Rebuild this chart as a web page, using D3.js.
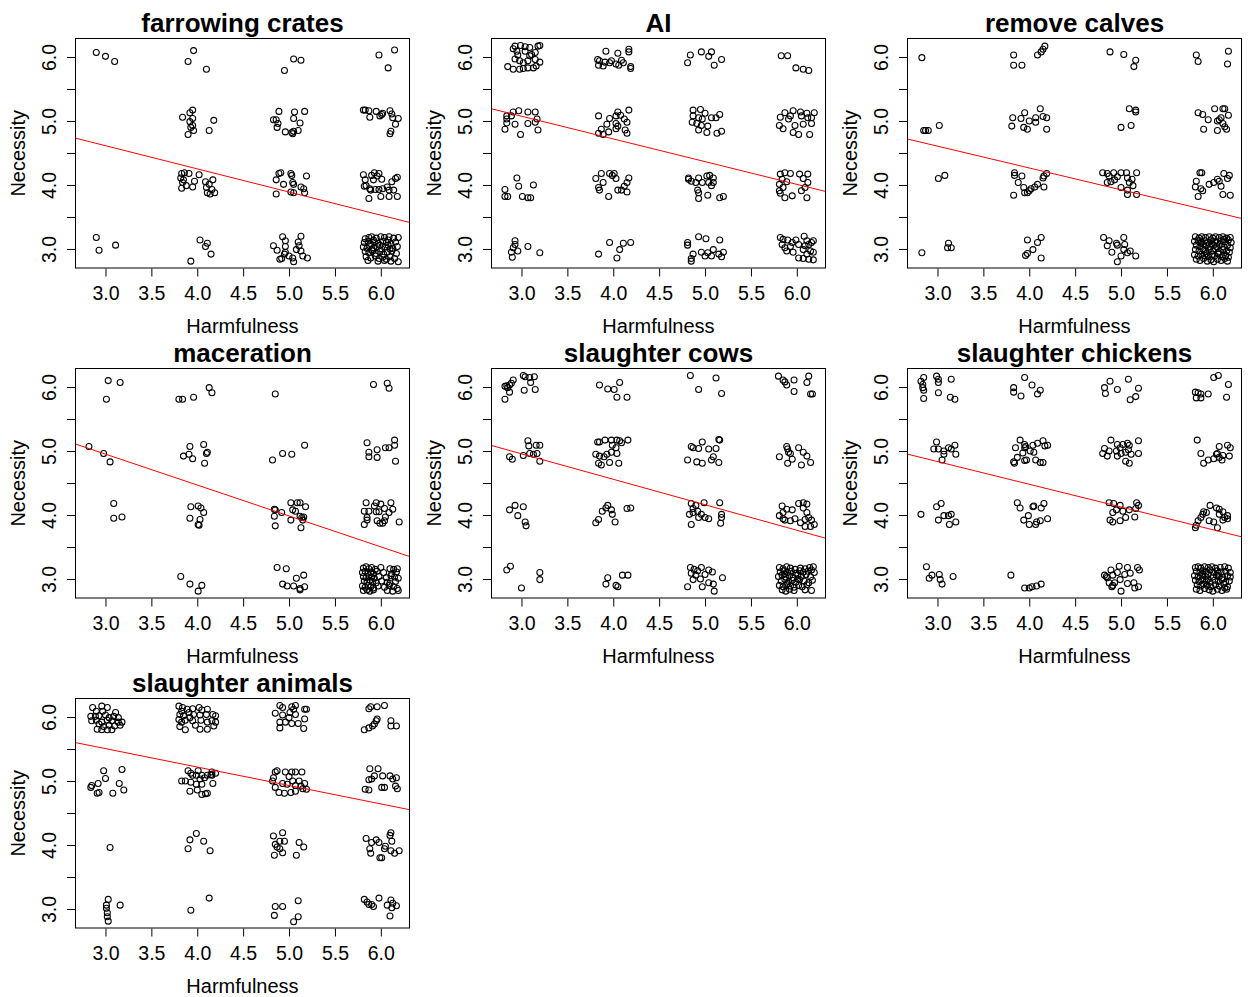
<!DOCTYPE html>
<html>
<head>
<meta charset="utf-8">
<script src="https://cdn.jsdelivr.net/npm/d3@7"></script>
<style>
body { margin: 0; background: #fff; }
text { font-family: "Liberation Sans", Arial, sans-serif; }
</style>
</head>
<body>
<div id="chart"></div>
<script>
// panel titles and fitted lines
var titles = ["farrowing crates", "AI", "remove calves", "maceration", "slaughter cows", "slaughter chickens", "slaughter animals"];
var intercepts = [5.70, 6.14, 5.63, 6.40, 6.15, 5.90, 6.37];
var slopes = [-0.362, -0.355, -0.341, -0.483, -0.398, -0.355, -0.288];

var xTicks = [3, 3.5, 4, 4.5, 5, 5.5, 6];
var yTicks = [3, 3.5, 4, 4.5, 5, 5.5, 6];
var yTickLabels = [3, 4, 5, 6];

// jittered points [Harmfulness, Necessity]
var ptsFarrowing = [
 [2.90,6.07],[3.00,6.01],[3.10,5.93],[3.96,6.10],[3.90,5.93],[4.10,5.81],[5.05,5.97],[5.13,5.95],[4.95,5.79],[6.15,6.11],[5.98,6.03],[6.08,5.83],
 [3.95,5.17],[3.92,5.13],[3.84,5.06],[3.95,5.04],[3.92,4.99],[4.18,5.01],[3.95,4.93],[3.93,4.90],[3.96,4.85],[3.90,4.79],[4.13,4.85],
 [4.89,5.15],[5.06,5.14],[5.17,5.15],[4.83,5.02],[4.86,5.02],[4.88,4.96],[5.05,5.04],[5.12,4.97],[4.87,4.90],[4.96,4.83],[5.04,4.80],[5.05,4.84],[5.10,4.85],[5.03,4.82],
 [5.81,5.17],[5.83,5.17],[5.88,5.06],[5.95,5.15],[6.01,5.10],[6.02,5.12],[6.10,5.16],[6.12,5.11],[6.13,5.05],[6.19,5.04],[6.16,4.95],[6.11,4.84],[6.10,4.80],[5.99,5.08],[5.87,5.16],
 [3.83,4.18],[3.86,4.19],[3.91,4.18],[4.02,4.16],[3.82,4.11],[3.85,4.08],[3.84,4.04],[3.88,3.99],[3.83,3.95],[3.95,3.97],[4.09,4.05],[4.17,4.08],[4.13,4.01],[4.10,3.96],[4.16,3.93],[4.11,3.88],[4.14,3.86],[4.19,3.88],[3.97,4.06],
 [4.89,4.18],[5.02,4.18],[5.03,4.15],[5.19,4.14],[4.86,4.08],[4.94,4.01],[5.04,4.04],[5.13,3.97],[5.16,3.94],[4.86,3.86],[5.02,3.89],[5.05,3.88],[5.17,3.88],[4.91,4.19],[5.05,4.01],
 [5.81,4.16],[5.90,4.15],[5.93,4.19],[5.98,4.18],[6.01,4.09],[5.92,4.08],[5.83,4.08],[5.84,3.99],[5.88,3.94],[5.89,3.92],[5.94,3.93],[5.98,3.93],[6.02,3.94],[6.07,3.97],[6.12,4.05],[6.16,4.10],[6.18,4.12],[5.82,3.98],[5.87,3.79],[6.00,3.82],[6.09,3.82],[6.18,3.82],[6.14,3.92],[6.09,3.92],[5.96,4.14],
 [2.90,3.18],[2.93,2.98],[3.11,3.06],[4.03,3.14],[4.11,3.09],[4.09,3.04],[4.15,2.92],[3.93,2.81],
 [4.93,3.19],[5.13,3.20],[4.96,3.13],[4.83,3.05],[4.96,3.04],[5.10,3.11],[5.11,3.05],[5.13,2.97],[4.87,2.98],[4.95,2.92],[5.00,2.89],[4.92,2.85],[5.08,2.99],[5.15,2.89],[5.20,2.86],[5.05,2.80],[4.90,2.84],[4.96,2.95],[5.04,2.86],
 [5.83,3.16],[5.87,3.18],[5.90,3.19],[5.95,3.17],[6.00,3.19],[6.04,3.18],[6.09,3.19],[6.14,3.17],[6.19,3.18],
 [5.82,3.10],[5.86,3.12],[5.89,3.08],[5.93,3.11],[5.97,3.09],[6.02,3.12],[6.06,3.10],[6.11,3.08],[6.16,3.11],
 [5.81,3.03],[5.85,3.01],[5.88,3.05],[5.92,3.02],[5.96,3.04],[6.01,3.00],[6.05,3.03],[6.08,3.06],[6.13,3.01],[6.18,3.04],
 [5.83,2.96],[5.87,2.94],[5.91,2.97],[5.95,2.93],[5.99,2.96],[6.03,2.92],[6.07,2.95],[6.12,2.97],[6.17,2.93],
 [5.84,2.88],[5.89,2.86],[5.94,2.89],[5.98,2.85],[6.02,2.87],[6.06,2.84],[6.10,2.88],[6.15,2.85],
 [5.86,2.82],[5.97,2.81],[6.04,2.82],[6.11,2.81],[6.19,2.80],[5.92,3.14],[6.08,3.14],[5.99,3.06],[5.90,2.99],[6.10,3.00]
];

var ptsAI = [
 [2.91,6.13],[2.93,6.17],[2.99,6.18],[3.04,6.16],[3.09,6.15],[3.18,6.17],[3.20,6.18],[2.95,6.09],[3.04,6.09],[3.11,6.04],[3.15,6.07],[2.93,5.97],[2.98,5.94],[3.02,5.91],[3.07,5.94],[3.15,5.96],[3.20,5.92],[2.85,5.85],[2.91,5.81],[2.98,5.81],[3.02,5.82],[3.07,5.83],[3.13,5.83],[3.16,5.86],[2.96,6.03],[3.09,6.02],
 [3.92,6.09],[4.05,6.06],[4.17,6.12],[4.17,6.08],[3.83,5.96],[3.85,5.94],[3.91,5.92],[3.96,5.91],[4.03,5.89],[4.09,5.95],[4.11,5.91],[3.84,5.87],[3.89,5.86],[4.06,5.87],[4.19,5.85],[4.19,5.82],[3.98,5.94],
 [4.96,6.08],[5.07,6.08],[4.84,6.03],[5.04,6.01],[5.18,5.96],[4.81,5.91],[5.10,5.87],
 [5.83,6.02],[5.90,6.02],[5.99,5.83],[6.07,5.81],[6.13,5.79],
 [2.84,5.08],[2.84,5.03],[2.84,4.97],[2.91,5.14],[2.97,5.16],[3.07,5.14],[3.15,5.14],[2.82,4.87],[2.93,4.95],[2.99,4.79],[3.07,4.96],[3.15,4.98],[3.17,5.03],[3.18,4.86],[2.89,5.08],
 [3.84,5.08],[3.96,5.04],[4.03,5.08],[4.05,5.14],[4.08,5.09],[4.17,5.17],[3.93,4.95],[4.03,4.96],[4.12,5.03],[4.15,4.98],[3.87,4.87],[3.95,4.83],[4.03,4.88],[4.05,4.92],[4.13,4.86],[4.15,4.81],[3.84,4.81],[3.89,4.79],
 [4.87,5.17],[4.95,5.18],[5.00,5.12],[4.87,5.08],[4.93,5.05],[5.07,5.05],[5.16,5.10],[4.86,4.98],[4.91,4.96],[4.96,4.93],[5.03,4.92],[5.12,5.05],[4.93,4.86],[5.02,4.82],[5.13,4.81],[5.18,4.84],[4.97,5.03],
 [5.82,5.06],[5.87,5.13],[5.91,5.03],[5.96,5.16],[6.04,5.14],[6.11,5.12],[6.19,5.13],[6.12,5.05],[6.16,5.05],[5.81,4.93],[5.85,4.88],[5.98,4.93],[6.07,4.95],[6.16,4.96],[5.96,4.82],[6.02,4.79],[6.14,4.79],[5.93,5.08],[6.05,5.08],
 [2.95,4.11],[2.97,3.98],[3.13,4.00],[2.82,3.93],[2.82,3.82],[2.85,3.82],[3.01,3.82],[3.07,3.80],[3.10,3.80],
 [3.81,4.10],[3.87,4.18],[3.96,4.18],[4.01,4.18],[4.03,4.10],[4.17,4.11],[3.89,4.04],[3.84,3.96],[4.15,4.04],[4.12,3.98],[4.05,3.92],[4.09,3.92],[4.15,3.89],[3.95,3.82],[3.85,3.92],[3.99,4.15],
 [4.82,4.11],[4.85,4.06],[4.93,4.11],[5.02,4.14],[5.05,4.15],[5.09,4.11],[4.90,4.04],[4.97,4.04],[5.04,4.04],[5.07,3.99],[4.92,3.92],[4.93,3.88],[5.03,3.84],[4.93,3.79],[5.16,3.80],[5.20,3.82],[5.09,4.04],[4.82,4.09],
 [5.82,4.17],[5.87,4.19],[5.93,4.18],[6.03,4.17],[6.12,4.17],[5.84,4.09],[5.89,4.05],[6.07,4.10],[6.12,4.04],[5.81,3.91],[5.82,3.87],[5.87,3.80],[5.95,3.83],[6.05,3.91],[6.11,3.80],[5.81,4.01],[6.09,3.96],[5.85,3.96],
 [2.93,3.13],[2.93,3.07],[2.91,3.02],[2.96,2.97],[2.89,2.95],[2.90,2.87],[3.07,3.04],[3.20,2.94],
 [3.96,3.10],[4.11,3.09],[4.19,3.10],[4.07,2.99],[3.84,2.92],[4.04,2.86],
 [4.93,3.19],[5.01,3.16],[5.16,3.14],[4.81,3.10],[4.81,3.06],[4.96,2.95],[5.03,2.94],[5.09,2.99],[5.00,2.89],[5.07,2.89],[5.15,2.92],[5.20,2.95],[4.87,2.92],[4.85,2.85],[4.85,2.81],[5.18,2.88],
 [5.82,3.18],[5.85,3.15],[5.90,3.14],[5.99,3.14],[6.08,3.20],[6.11,3.13],[6.18,3.13],[5.84,3.07],[5.87,3.02],[5.95,3.10],[6.02,3.07],[6.09,3.05],[6.13,3.07],[6.16,3.10],[5.89,2.97],[5.96,2.95],[6.07,2.99],[6.15,2.97],[6.02,2.86],[6.07,2.85],[6.13,2.84],[6.18,2.83],[6.11,2.92],[5.93,3.04],[6.18,2.95]
];

var ptsCalves = [
 [2.83,5.99],[3.83,6.03],[3.83,5.87],[3.92,5.87],[4.09,6.03],[4.13,6.08],[4.15,6.12],[4.17,6.17],
 [4.88,6.08],[5.03,6.04],[5.16,5.95],[5.14,5.85],[5.82,6.03],[5.84,5.93],[6.17,6.09],[6.16,5.89],
 [2.85,4.85],[2.87,4.85],[2.90,4.85],[3.02,4.93],
 [3.82,5.05],[3.91,5.04],[3.95,5.13],[3.81,4.92],[3.94,4.90],[3.98,4.87],[4.00,5.00],[4.07,5.05],[4.12,5.19],[4.15,5.07],[4.19,5.05],[4.19,4.87],[4.07,4.98],
 [5.09,5.19],[5.16,5.17],[5.16,5.14],[5.00,4.90],[5.11,4.93],
 [5.84,5.13],[5.89,5.10],[5.95,5.02],[6.02,5.19],[6.11,5.19],[6.13,5.19],[6.17,5.09],[6.09,5.05],[6.05,5.00],[6.11,4.96],[6.13,4.91],[6.15,4.87],[6.05,4.85],[5.90,4.87],[6.07,5.02],
 [3.01,4.10],[3.08,4.15],
 [3.84,4.19],[3.84,4.15],[3.92,4.14],[3.88,4.04],[3.94,3.96],[3.95,3.88],[3.98,3.88],[4.02,3.94],[4.06,3.97],[4.09,4.01],[4.15,4.11],[4.19,4.18],[4.16,4.14],[4.16,3.97],[3.83,3.84],[4.00,3.91],
 [4.80,4.19],[4.85,4.18],[4.92,4.19],[5.00,4.19],[5.06,4.19],[5.17,4.19],[4.87,4.14],[4.96,4.13],[5.07,4.11],[5.12,4.09],[4.85,4.04],[4.89,4.05],[5.00,3.96],[5.07,3.92],[5.13,3.99],[5.07,3.85],[5.17,3.85],[4.93,4.08],[5.09,4.04],
 [5.86,4.19],[5.88,4.19],[5.82,4.06],[5.81,3.97],[5.87,3.94],[5.89,3.91],[5.84,3.82],[5.96,4.01],[6.01,4.04],[6.05,4.09],[6.07,4.06],[6.12,4.18],[6.18,4.15],[6.16,4.10],[6.09,3.98],[6.11,3.85],[6.19,3.84],
 [2.83,2.94],[3.12,3.09],[3.11,3.02],[3.15,3.02],
 [3.98,3.14],[4.13,3.18],[4.09,3.10],[4.04,2.99],[3.98,2.93],[3.96,2.90],[4.13,2.86],
 [4.81,3.18],[4.87,3.13],[4.95,3.09],[5.03,3.18],[4.85,3.05],[4.96,3.06],[5.03,2.99],[4.90,2.95],[5.07,2.94],[5.10,2.97],[5.16,2.89],[5.00,2.89],[4.96,2.80],[5.04,3.07],
 [5.81,3.19],[5.85,3.17],[5.88,3.19],[5.92,3.18],[5.96,3.19],[6.00,3.17],[6.03,3.19],[6.07,3.18],[6.11,3.19],[6.15,3.17],[6.19,3.18],
 [5.80,3.12],[5.84,3.14],[5.87,3.11],[5.91,3.13],[5.94,3.10],[5.98,3.14],[6.02,3.12],[6.05,3.10],[6.09,3.13],[6.13,3.11],[6.17,3.14],[6.20,3.10],
 [5.82,3.06],[5.86,3.04],[5.90,3.07],[5.93,3.05],[5.97,3.03],[6.01,3.06],[6.04,3.04],[6.08,3.07],[6.12,3.03],[6.16,3.06],[6.19,3.02],
 [5.81,2.99],[5.85,2.97],[5.89,3.00],[5.92,2.96],[5.96,2.99],[6.00,2.97],[6.03,3.00],[6.07,2.96],[6.11,2.99],[6.15,2.97],[6.18,2.95],
 [5.80,2.91],[5.84,2.89],[5.88,2.92],[5.91,2.90],[5.95,2.88],[5.99,2.91],[6.02,2.89],[6.06,2.92],[6.10,2.88],[6.14,2.90],[6.17,2.87],
 [5.82,2.84],[5.86,2.82],[5.90,2.85],[5.94,2.81],[5.98,2.83],[6.01,2.80],[6.05,2.84],[6.09,2.82],[6.13,2.85],[6.16,2.81],
 [5.87,3.09],[5.99,3.08],[6.06,2.94],[5.93,2.93],[6.12,3.15]
];

var ptsMaceration = [
 [3.03,6.10],[3.16,6.07],[3.01,5.81],[3.80,5.81],[3.84,5.81],[3.96,5.84],[4.13,5.99],[4.16,5.91],[4.85,5.89],[5.92,6.04],[6.07,6.06],[6.09,5.98],
 [2.82,5.07],[2.98,4.96],[3.05,4.83],
 [3.92,5.07],[4.07,5.10],[4.11,4.98],[4.10,4.96],[3.85,4.92],[3.91,4.95],[3.95,4.88],[4.08,4.81],
 [5.17,5.09],[4.93,4.96],[5.03,4.95],[4.82,4.86],
 [5.85,5.13],[5.87,4.98],[5.87,4.91],[5.96,5.02],[5.96,4.90],[6.05,5.05],[6.09,5.05],[6.15,5.17],[6.15,5.09],[6.16,4.84],
 [3.09,4.18],[3.09,3.95],[3.18,3.97],
 [3.93,4.13],[4.01,4.14],[4.04,4.11],[4.07,4.04],[3.92,3.95],[4.03,3.93],[4.01,3.85],[4.02,3.84],
 [4.84,4.09],[4.85,4.08],[4.92,4.04],[4.84,3.98],[4.85,3.83],[5.02,4.19],[5.09,4.19],[5.12,4.19],[5.04,4.08],[5.07,4.06],[5.18,4.13],[5.02,3.92],[5.12,3.98],[5.14,3.96],[5.16,3.97],[5.13,3.80],[5.15,3.92],
 [5.84,4.19],[5.95,4.19],[6.00,4.17],[6.11,4.19],[5.82,4.06],[5.87,4.06],[5.95,4.05],[5.98,4.05],[6.04,4.10],[6.13,4.09],[6.09,4.04],[5.85,3.96],[5.85,3.92],[5.82,3.85],[5.96,3.91],[5.99,3.87],[6.04,3.91],[6.02,3.87],[6.20,3.89],[6.05,3.97],[5.93,4.14],
 [3.82,3.04],[3.92,2.92],[4.05,2.90],[4.01,2.81],
 [4.87,3.18],[4.97,3.16],[5.08,3.01],[5.16,3.06],[4.93,2.92],[4.98,2.89],[5.05,2.89],[5.12,2.85],[5.17,2.88],[5.12,2.83],
 [5.81,3.17],[5.84,3.19],[5.87,3.16],[5.90,3.18],[5.94,3.15],[6.00,3.18],[6.10,3.16],[6.14,3.15],[6.18,3.16],
 [5.80,3.10],[5.83,3.12],[5.86,3.09],[5.89,3.11],[5.92,3.08],[5.96,3.12],[6.03,3.10],[6.12,3.08],[6.17,3.11],
 [5.81,3.04],[5.84,3.02],[5.87,3.05],[5.90,3.03],[5.93,3.01],[5.98,3.04],[6.06,3.02],[6.11,3.05],[6.15,3.03],[6.19,3.01],
 [5.82,2.97],[5.85,2.95],[5.88,2.98],[5.91,2.96],[5.95,2.94],[6.01,2.97],[6.07,2.95],[6.10,2.93],[6.16,2.96],
 [5.80,2.89],[5.83,2.87],[5.86,2.90],[5.89,2.88],[5.92,2.86],[5.97,2.89],[6.04,2.87],[6.09,2.90],[6.14,2.88],[6.18,2.85],
 [5.81,2.82],[5.85,2.83],[5.88,2.81],[5.92,2.83],[6.07,2.82],[6.13,2.81],[6.19,2.82]
];

var ptsCows = [
 [2.82,6.01],[2.84,6.02],[2.87,6.03],[2.89,6.06],[2.91,6.11],[3.02,6.18],[3.04,6.16],[3.09,6.15],[3.14,6.16],[3.10,6.07],[3.03,5.95],[3.15,5.96],[2.87,5.92],[2.82,5.81],[2.85,5.99],
 [3.85,6.03],[3.94,5.97],[4.01,5.96],[4.07,6.07],[4.04,5.84],[4.15,5.84],
 [4.84,6.18],[5.12,6.14],[4.93,5.96],[5.18,5.90],
 [5.80,6.17],[5.85,6.11],[5.87,6.08],[5.89,6.03],[5.97,6.11],[6.13,6.17],[6.11,6.07],[5.97,5.93],[6.15,5.89],[6.17,5.89],
 [3.07,5.16],[3.08,5.08],[3.16,5.09],[3.20,5.09],[2.87,4.91],[2.90,4.87],[3.02,4.93],[3.09,4.96],[3.13,4.95],[3.17,4.96],[3.20,4.84],
 [3.83,5.14],[3.85,5.14],[3.91,5.17],[3.98,5.17],[4.04,5.17],[4.07,5.16],[4.16,5.17],[3.99,5.09],[4.03,5.05],[3.98,4.98],[3.93,4.95],[3.81,4.95],[3.85,4.92],[3.90,4.91],[4.04,4.96],[3.84,4.81],[3.87,4.78],[3.96,4.82],[4.06,4.81],[4.09,5.13],
 [4.85,5.07],[4.87,5.05],[4.97,5.14],[5.04,5.03],[5.15,5.18],[5.16,5.17],[5.12,5.04],[4.81,4.86],[4.91,4.83],[4.97,4.81],[5.07,4.86],[5.09,4.91],[5.15,4.82],[4.93,5.04],
 [5.89,5.07],[5.91,4.98],[5.93,4.96],[5.81,4.91],[6.02,5.05],[6.07,4.98],[6.11,4.92],[6.15,4.82],[6.05,4.78],[5.90,4.81],[5.95,4.87],[5.90,5.03],
 [2.93,4.15],[2.87,4.08],[3.02,4.13],[2.96,3.99],[3.04,3.89],[3.05,3.83],
 [3.94,4.15],[3.92,4.11],[3.88,4.06],[3.98,4.08],[3.99,4.01],[4.15,4.10],[4.19,4.11],[3.84,3.93],[3.81,3.88],[4.02,3.89],
 [4.85,4.18],[4.90,4.15],[4.87,4.10],[4.83,4.01],[4.87,4.04],[4.92,4.06],[4.99,4.19],[5.16,4.19],[5.00,3.96],[5.04,3.94],[4.93,3.96],[4.85,3.85],[5.18,4.01],[5.18,3.96],[5.17,3.87],[4.96,4.01],
 [5.84,4.14],[5.89,4.09],[5.95,4.08],[6.02,4.18],[6.07,4.19],[6.11,4.17],[6.07,4.11],[6.11,4.04],[6.13,3.96],[6.09,3.93],[6.16,3.92],[6.19,3.85],[5.81,3.99],[5.85,3.94],[5.87,3.92],[5.93,3.91],[5.98,3.94],[6.09,3.82],[6.15,3.82],[6.04,3.88],[5.85,4.04],
 [2.88,3.20],[2.84,3.14],[3.20,3.10],[3.20,2.99],[3.00,2.86],
 [3.94,3.02],[3.92,2.92],[4.03,2.90],[4.05,2.88],[4.10,3.06],[4.16,3.06],
 [4.84,3.18],[4.88,3.15],[4.96,3.18],[4.85,3.09],[4.92,3.13],[5.04,3.14],[5.08,3.11],[5.00,3.07],[5.19,3.02],[4.87,2.99],[4.95,3.00],[5.04,2.94],[5.09,2.92],[4.81,2.88],[4.97,2.88],[5.10,2.81],[4.90,3.06],
 [5.81,3.18],[5.85,3.16],[5.89,3.19],[5.93,3.17],[5.98,3.15],[6.04,3.17],[6.09,3.16],[6.14,3.18],[6.18,3.19],
 [5.82,3.11],[5.86,3.13],[5.90,3.10],[5.94,3.12],[5.99,3.09],[6.03,3.13],[6.07,3.11],[6.12,3.12],[6.16,3.14],[6.19,3.10],
 [5.80,3.04],[5.84,3.06],[5.88,3.03],[5.92,3.05],[5.96,3.02],[6.01,3.06],[6.05,3.04],[6.10,3.07],[6.15,3.03],
 [5.83,2.97],[5.87,2.99],[5.91,2.96],[5.95,2.98],[5.99,2.95],[6.03,2.99],[6.08,2.97],[6.13,2.94],[6.17,2.98],
 [5.81,2.90],[5.85,2.88],[5.89,2.91],[5.93,2.89],[5.97,2.87],[6.02,2.90],[6.06,2.88],[6.11,2.91],
 [5.84,2.83],[5.88,2.81],[5.92,2.84],[5.97,2.82],[6.09,2.83],[6.16,2.82],[5.87,3.08],[6.01,3.00],[5.90,2.93]
];

var ptsChickens = [
 [2.85,6.15],[2.82,6.09],[2.84,6.04],[2.84,5.99],[2.85,5.95],[2.85,5.82],[2.99,6.17],[3.01,6.12],[3.01,6.07],[3.15,6.12],[3.01,5.91],[3.14,5.84],[3.19,5.81],
 [3.95,6.15],[4.03,6.03],[3.83,5.99],[3.83,5.92],[3.91,5.86],[4.12,5.95],[4.09,5.89],
 [4.88,6.09],[5.08,6.12],[4.82,5.99],[4.96,5.96],[4.83,5.90],[5.19,5.98],[5.16,5.85],[5.10,5.80],
 [6.01,6.15],[6.06,6.18],[6.17,6.04],[5.81,5.92],[5.84,5.91],[5.87,5.89],[5.82,5.83],[5.87,5.83],[5.95,5.89],[6.15,5.84],
 [2.99,5.14],[2.96,5.03],[3.01,5.03],[3.07,5.00],[3.12,5.05],[3.19,5.09],[3.07,4.95],[3.20,4.95],[3.05,4.86],[3.15,5.03],
 [3.90,5.17],[3.95,5.10],[3.96,5.07],[3.85,5.05],[4.04,5.09],[4.09,5.12],[4.15,5.16],[4.20,5.09],[4.17,5.08],[4.01,5.00],[4.05,4.98],[3.93,4.97],[3.87,4.90],[3.83,4.83],[3.84,4.81],[3.95,4.85],[3.97,4.86],[4.07,4.86],[4.12,4.82],[4.15,4.82],[3.95,5.05],
 [4.89,5.17],[4.96,5.10],[5.02,5.10],[5.07,5.12],[5.09,5.09],[5.19,5.16],[4.82,5.04],[4.87,5.00],[4.80,4.96],[4.85,4.92],[4.95,5.00],[5.00,4.96],[5.05,4.98],[5.08,5.02],[4.96,4.92],[5.11,4.95],[5.19,4.96],[5.05,4.84],[5.09,4.81],[4.99,5.05],
 [5.83,5.17],[5.87,4.96],[5.90,4.81],[5.95,4.86],[6.01,4.88],[6.04,4.95],[6.07,5.07],[6.07,4.90],[6.10,4.86],[6.16,5.09],[6.19,5.05],[6.18,4.92],[6.11,4.93],[6.05,4.96],
 [2.82,4.01],[2.99,4.13],[3.04,4.18],[3.07,3.99],[3.01,3.92],[3.12,3.99],[3.15,4.01],[3.13,3.85],[3.20,3.89],
 [3.87,4.19],[3.90,4.11],[4.04,4.13],[4.05,4.14],[4.13,4.11],[4.16,4.18],[3.94,3.92],[3.99,3.99],[4.00,3.85],[4.07,3.85],[4.08,3.89],[4.12,3.91],[4.20,3.94],
 [4.87,4.19],[4.92,4.18],[4.99,4.15],[4.95,4.08],[4.91,4.04],[5.02,4.06],[5.09,4.08],[5.17,4.19],[5.19,4.15],[5.16,4.10],[4.88,3.92],[4.91,3.89],[4.99,3.91],[5.05,3.96],[5.15,3.97],
 [5.97,4.15],[6.04,4.11],[6.07,4.09],[6.11,4.05],[6.16,3.99],[6.13,3.96],[5.93,4.04],[5.89,4.01],[5.87,3.96],[5.84,3.91],[5.82,3.84],[5.81,3.80],[5.96,3.91],[6.01,3.89],[6.05,3.80],[6.11,3.92],[6.07,4.01],[5.90,4.05],[6.16,3.94],
 [2.88,3.19],[2.94,3.06],[2.91,3.01],[3.02,3.07],[3.03,2.99],[3.05,2.92],[3.17,3.04],
 [3.80,3.06],[3.95,2.86],[4.00,2.86],[4.03,2.88],[4.08,2.89],[4.13,2.92],
 [4.82,3.06],[4.84,3.04],[4.89,3.14],[4.98,3.20],[5.07,3.18],[5.18,3.18],[5.20,3.14],[4.91,3.06],[4.96,3.10],[5.04,3.07],[5.10,3.09],[4.87,2.94],[4.91,2.90],[4.93,2.94],[4.99,2.99],[4.90,2.88],[5.07,2.93],[5.14,2.94],[5.00,2.81],[5.15,2.86],[5.19,2.88],[4.85,3.02],
 [5.81,3.18],[5.84,3.19],[5.87,3.17],[5.91,3.19],[5.95,3.18],[5.99,3.19],[6.03,3.17],[6.08,3.18],[6.13,3.19],[6.17,3.17],
 [5.82,3.12],[5.86,3.10],[5.89,3.13],[5.93,3.11],[5.97,3.14],[6.01,3.10],[6.05,3.13],[6.09,3.11],[6.14,3.12],[6.19,3.10],
 [5.80,3.05],[5.84,3.03],[5.88,3.06],[5.92,3.04],[5.95,3.07],[6.00,3.03],[6.04,3.06],[6.07,3.04],[6.11,3.02],[6.16,3.05],[6.19,3.03],
 [5.81,2.98],[5.85,2.96],[5.89,2.99],[5.93,2.97],[5.97,2.95],[6.02,2.98],[6.06,2.96],[6.10,2.99],[6.14,2.95],[6.18,2.97],
 [5.83,2.91],[5.87,2.89],[5.90,2.92],[5.94,2.90],[5.98,2.88],[6.03,2.91],[6.07,2.89],[6.12,2.92],[6.16,2.88],
 [5.82,2.84],[5.86,2.82],[5.91,2.85],[5.96,2.83],[6.00,2.81],[6.05,2.84],[6.10,2.82],[6.15,2.84],
 [5.89,3.08],[6.06,3.09],[5.95,3.00],[6.13,2.86]
];

var ptsAnimals = [
 [2.86,6.15],[2.96,6.17],[3.02,6.15],[2.90,6.09],[2.97,6.09],[3.11,6.07],[2.84,6.01],[2.89,6.01],[2.93,6.02],[3.00,6.03],[3.04,5.99],[3.09,6.01],[2.90,5.95],[2.96,5.92],[3.02,5.95],[3.07,5.94],[3.14,5.92],[3.18,5.92],[2.93,5.89],[2.98,5.85],[3.04,5.87],[3.10,5.86],[3.16,5.87],[2.91,5.81],[2.96,5.80],[3.02,5.80],[3.07,5.80],[2.85,5.94],[3.14,5.99],
 [3.80,6.17],[3.84,6.15],[3.83,6.09],[3.89,6.12],[3.95,6.13],[4.02,6.15],[4.05,6.11],[4.11,6.12],[3.81,6.04],[3.85,6.02],[3.92,5.99],[3.96,6.04],[4.03,6.03],[4.10,6.04],[4.17,6.04],[4.20,6.02],[3.80,5.96],[3.83,5.92],[3.87,5.95],[3.95,5.94],[4.04,5.95],[4.11,5.92],[4.16,5.94],[4.20,5.92],[3.81,5.85],[3.87,5.80],[3.98,5.87],[4.03,5.81],[4.11,5.81],[4.18,5.86],[3.91,6.07],
 [4.90,6.18],[4.93,6.15],[5.03,6.16],[5.07,6.18],[5.17,6.12],[5.19,6.12],[4.85,6.06],[4.93,6.03],[5.01,6.07],[5.07,6.04],[5.17,5.97],[4.90,5.92],[4.96,5.92],[5.03,5.90],[5.10,5.90],[4.90,5.83],[5.16,5.82],[5.00,5.99],[5.05,6.12],
 [5.87,6.13],[5.89,6.16],[5.96,6.16],[6.04,6.18],[5.96,5.97],[5.95,5.94],[5.93,5.89],[5.91,5.86],[5.82,5.80],[5.87,5.83],[6.11,5.94],[6.11,5.86],[6.17,5.86],
 [2.98,5.16],[3.18,5.18],[3.00,5.04],[2.85,4.93],[2.92,4.96],[3.15,4.96],[2.84,4.90],[3.20,4.86],[2.91,4.81],[2.93,4.82],[3.08,4.81],
 [3.90,5.16],[3.93,5.12],[4.01,5.16],[4.05,5.09],[3.99,5.09],[4.11,5.09],[4.16,5.14],[4.20,5.12],[3.83,5.00],[3.87,5.00],[3.93,4.98],[4.03,5.03],[4.08,5.05],[3.99,4.95],[4.05,4.95],[4.16,5.09],[4.17,4.96],[3.92,4.84],[4.00,4.86],[4.05,4.79],[4.11,4.81],[4.09,4.80],[4.15,5.10],[3.95,5.09],
 [4.85,5.14],[4.87,5.16],[4.83,5.05],[4.82,5.00],[4.96,5.14],[5.03,5.14],[5.07,5.14],[5.14,5.14],[5.00,5.07],[5.04,5.00],[5.11,5.00],[5.17,4.96],[5.19,4.87],[4.93,4.96],[4.98,4.95],[5.07,4.93],[4.89,4.82],[4.95,4.81],[5.02,4.82],[5.07,4.84],[5.15,4.88],[4.85,4.90],[5.13,4.92],
 [5.88,5.19],[5.97,5.19],[5.90,5.03],[5.87,5.02],[5.93,5.08],[6.02,5.08],[6.10,5.08],[6.17,5.05],[6.16,4.92],[6.18,4.88],[5.83,4.87],[5.87,4.86],[6.01,4.90],[6.04,4.90],[6.13,5.03],
 [3.05,3.96],[3.99,4.18],[3.92,4.08],[4.07,4.06],[3.90,3.94],[4.14,3.91],
 [4.83,4.14],[4.93,4.19],[4.90,4.06],[4.95,4.06],[4.87,3.97],[4.90,3.94],[5.11,4.04],[5.16,3.97],[4.84,3.84],[4.93,3.88],[5.08,3.84],[4.85,4.01],
 [5.84,4.10],[5.90,4.04],[5.95,4.08],[5.98,4.04],[6.11,4.19],[6.10,4.15],[6.12,4.06],[6.05,3.98],[6.11,3.91],[6.15,3.87],[6.20,3.91],[5.88,3.94],[5.89,3.87],[5.99,3.80],[6.01,3.80],[6.04,3.94],
 [3.03,3.15],[3.01,3.06],[3.01,3.01],[3.02,2.94],[3.02,2.88],[3.03,2.81],[3.16,3.06],
 [3.93,2.98],[4.13,3.17],
 [4.85,3.04],[4.93,3.04],[5.10,3.13],[4.84,2.90],[5.10,2.88],[5.05,2.80],
 [5.82,3.15],[5.85,3.11],[5.87,3.07],[5.92,3.04],[5.90,3.07],[5.98,3.17],[6.11,3.14],[6.13,3.09],[6.07,3.06],[6.12,3.02],[6.17,3.05],[6.10,2.89]
];

var panels = [ptsFarrowing, ptsAI, ptsCalves, ptsMaceration, ptsCows, ptsChickens, ptsAnimals];

function init(){
    var w = 335;
    var h = 230.5;
    var colStep = 416;
    var rowStep = 330;
    var margin = {top: 38, left: 75};

    var svg = d3.select("#chart")
                .append("svg")
                .attr("width", 1248)
                .attr("height", 997);

    panels.forEach(function(dataset, i){
        var col = i % 3;
        var row = Math.floor(i / 3);

        var xScale = d3.scaleLinear()
                    .domain([2.668, 6.318])
                    .range([0, w]);

        var yScale = d3.scaleLinear()
                    .domain([2.695, 6.297])
                    .range([h, 0]);

        var g = svg.append("g")
                .attr("transform", "translate(" + (margin.left + col * colStep) + "," + (margin.top + row * rowStep) + ")");

        g.append("clipPath")
            .attr("id", "clip" + i)
            .append("rect")
            .attr("width", w)
            .attr("height", h);

        g.selectAll("circle")
            .data(dataset)
            .enter()
            .append("circle")
            .attr("cx", function(d){ return xScale(d[0]); })
            .attr("cy", function(d){ return yScale(d[1]); })
            .attr("r", 3)
            .attr("fill", "none")
            .attr("stroke", "#000")
            .attr("stroke-width", 1.05);

        // abline from the fitted coefficients
        var dom = xScale.domain();
        var line = d3.line()
                .x(function(d){ return xScale(d); })
                .y(function(d){ return yScale(intercepts[i] + slopes[i] * d); });

        g.append("path")
            .datum(dom)
            .attr("d", line)
            .attr("clip-path", "url(#clip" + i + ")")
            .attr("fill", "none")
            .attr("stroke", "#ff0000")
            .attr("stroke-width", 1);

        var xAxis = d3.axisBottom(xScale)
                    .tickValues(xTicks)
                    .tickFormat(d3.format(".1f"))
                    .tickSize(8)
                    .tickPadding(10);

        var yAxis = d3.axisLeft(yScale)
                    .tickValues(yTicks)
                    .tickSize(8)
                    .tickFormat(function(d){ return yTickLabels.indexOf(d) >= 0 ? d.toFixed(1) : ""; });

        var gx = g.append("g")
            .attr("transform", "translate(0," + h + ")")
            .call(xAxis);

        var gy = g.append("g")
            .call(yAxis);

        [gx, gy].forEach(function(a){
            a.select(".domain").remove();
            a.attr("font-family", null).attr("font-size", null);
            a.selectAll("line").attr("stroke", "#000");
            a.selectAll("text").attr("fill", "#000").style("font-size", "19.5px");
        });

        gy.selectAll("text")
            .attr("transform", "rotate(-90)")
            .attr("x", 0)
            .attr("y", -19)
            .attr("dy", null)
            .attr("text-anchor", "middle");

        g.append("rect")
            .attr("x", 0.5)
            .attr("y", 0.5)
            .attr("width", w - 1)
            .attr("height", h - 1)
            .attr("fill", "none")
            .attr("stroke", "#000")
            .attr("stroke-width", 1);

        g.append("text")
            .attr("x", w / 2)
            .attr("y", -6)
            .attr("text-anchor", "middle")
            .style("font-size", "26px")
            .style("font-weight", "bold")
            .text(titles[i]);

        g.append("text")
            .attr("x", w / 2)
            .attr("y", h + 64)
            .attr("text-anchor", "middle")
            .style("font-size", "20px")
            .text("Harmfulness");

        g.append("text")
            .attr("transform", "translate(-50," + (h / 2) + ") rotate(-90)")
            .attr("text-anchor", "middle")
            .style("font-size", "20px")
            .text("Necessity");
    });
}
window.onload = init;
</script>
</body>
</html>
